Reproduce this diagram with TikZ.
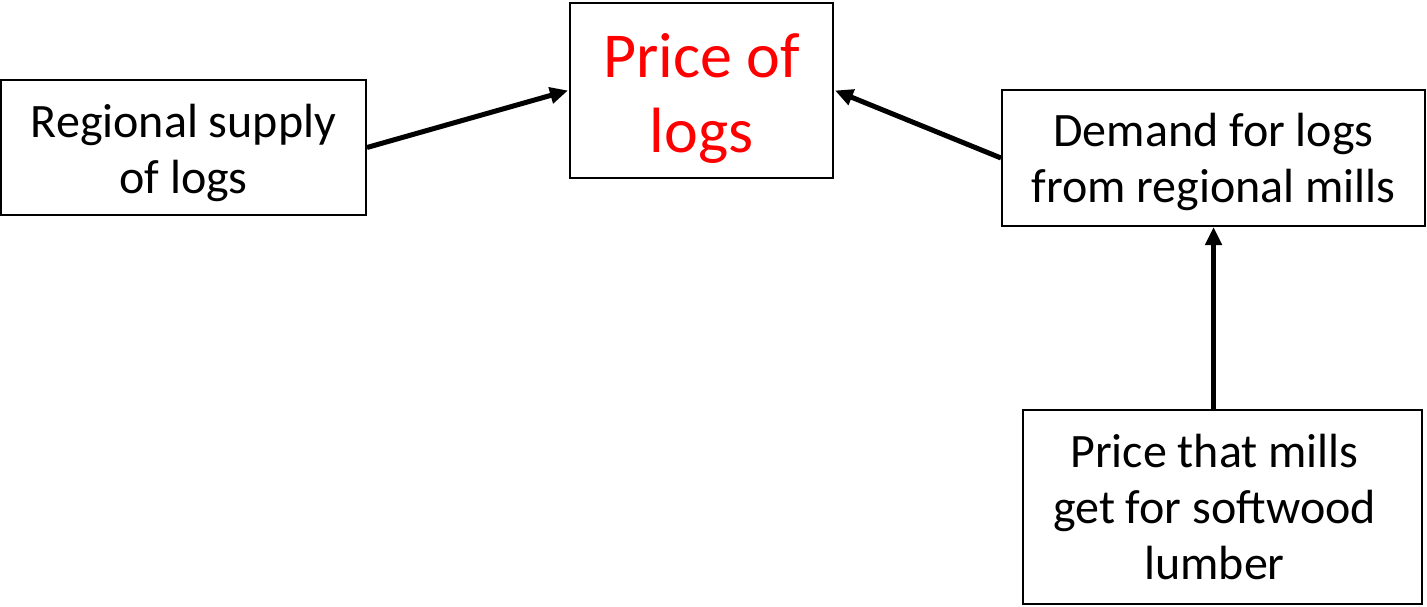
\documentclass[tikz,border=0pt]{standalone}
\usepackage{fontspec}
\setmainfont{Carlito}
\usetikzlibrary{arrows.meta}
\definecolor{pred}{HTML}{FF0000}
\newcommand{\tstrut}[1]{\rule{0pt}{#1}}
\newcommand{\rpad}{\rule{8pt}{0pt}}
\begin{document}
\begin{tikzpicture}[x=1pt,y=1pt,
  box/.style={draw=black, line width=1pt, inner sep=0pt, align=center,
    font=\fontsize{24}{28}\selectfont},
  arr/.style={line width=2.5pt, -{Triangle[length=9pt,width=8pt]}}]
\useasboundingbox (0,0) rectangle (713.5,303);
\node[box, minimum width=182.5pt, minimum height=67.5pt] (A) at (91.75,229.25) {\tstrut{22pt}Regional supply\\of logs};
\node[box, minimum width=131.5pt, minimum height=87.5pt, text=pred,
  font=\fontsize{32}{37.5}\selectfont] (P) at (350.75,257.75) {\tstrut{30pt}Price of\\logs};
\node[box, minimum width=211.5pt, minimum height=68pt] (D) at (606.75,224) {\tstrut{20.5pt}Demand for logs\\from regional mills};
\node[box, minimum width=199.5pt, minimum height=97pt] (M) at (611.25,49.5) {Price that mills\rpad\\get for softwood\rpad\\lumber\rpad};
\draw[arr] (A.east) -- ([xshift=-0.5pt]P.west);
\draw[arr] (D.west) -- ([xshift=0.5pt]P.east);
\draw[arr] (M.north -| D.south) -- (D.south);
\end{tikzpicture}
\end{document}
